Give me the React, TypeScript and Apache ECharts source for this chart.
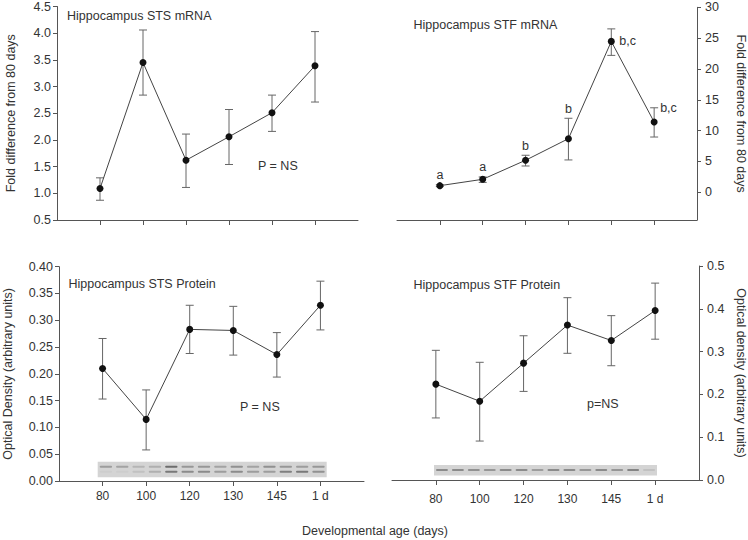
import React, { useEffect, useRef } from "react";
import * as echarts from "echarts";

// ---- Data ----
const categories = ["80", "100", "120", "130", "145", "1 d"];

const stsMrnaMean = [1.09, 3.45, 1.62, 2.06, 2.51, 3.39];
const stsMrnaLow = [0.87, 2.84, 1.11, 1.54, 2.16, 2.71];
const stsMrnaHigh = [1.29, 4.06, 2.11, 2.57, 2.84, 4.03];

const stfMrnaMean = [1.07, 2.1, 5.19, 8.69, 24.47, 11.39];
const stfMrnaLow = [0.92, 1.6, 4.26, 5.24, 22.2, 8.96];
const stfMrnaHigh = [1.22, 2.48, 6.0, 12.0, 26.5, 13.7];
const stfMrnaSig = ["a", "a", "b", "b", "b,c", "b,c"];
const stfMrnaSigPlacement = ["above", "above", "above", "above", "rightMean", "rightHigh"];

const stsProtMean = [0.21, 0.115, 0.283, 0.281, 0.236, 0.328];
const stsProtLow = [0.153, 0.058, 0.238, 0.235, 0.194, 0.282];
const stsProtHigh = [0.266, 0.17, 0.328, 0.326, 0.277, 0.373];

const stfProtMean = [0.224, 0.184, 0.273, 0.362, 0.326, 0.396];
const stfProtLow = [0.145, 0.091, 0.207, 0.296, 0.267, 0.329];
const stfProtHigh = [0.303, 0.275, 0.337, 0.426, 0.384, 0.46];

const stfMrnaTicks = [0, 5, 10, 15, 20, 25, 30];

// western blot band intensities (14 lanes)
const stsBlotUpper = [0.45, 0.4, 0.25, 0.3, 0.85, 0.5, 0.5, 0.4, 0.55, 0.4, 0.55, 0.5, 0.45, 0.5];
const stsBlotLower = [0.05, 0.05, 0.15, 0.3, 0.75, 0.6, 0.6, 0.45, 0.6, 0.45, 0.45, 0.7, 0.75, 0.55];
const stfBlot = [0.6, 0.6, 0.55, 0.5, 0.6, 0.6, 0.45, 0.6, 0.6, 0.5, 0.6, 0.5, 0.65, 0.15];

const FONT = "'Liberation Sans', Arial, Helvetica, sans-serif";
const TEXT = "#333";
const AXIS = "#555";

const positions = categories.map((_, i) => i + 1);

function errorSeries(idx: number, lows: number[], highs: number[]) {
  return {
    type: "custom",
    xAxisIndex: idx,
    yAxisIndex: idx,
    z: 2,
    data: positions.map((p, i) => [p, lows[i], highs[i]]),
    encode: { x: 0, y: [1, 2] },
    renderItem: (params: any, api: any) => {
      const x = api.value(0);
      const pLo = api.coord([x, api.value(1)]);
      const pHi = api.coord([x, api.value(2)]);
      const w = 4;
      const st = { stroke: "#666", lineWidth: 1, fill: "none" };
      return {
        type: "group",
        children: [
          { type: "line", shape: { x1: pLo[0], y1: pLo[1], x2: pHi[0], y2: pHi[1] }, style: st },
          { type: "line", shape: { x1: pHi[0] - w, y1: pHi[1], x2: pHi[0] + w, y2: pHi[1] }, style: st },
          { type: "line", shape: { x1: pLo[0] - w, y1: pLo[1], x2: pLo[0] + w, y2: pLo[1] }, style: st },
        ],
      };
    },
  };
}

function lineSeries(idx: number, means: number[]) {
  return {
    type: "line",
    xAxisIndex: idx,
    yAxisIndex: idx,
    z: 3,
    data: positions.map((p, i) => [p, means[i]]),
    symbol: "circle",
    symbolSize: 7,
    lineStyle: { color: "#444", width: 1 },
    itemStyle: { color: "#111" },
  };
}

function xAxis(idx: number, showLabels: boolean, margin: number) {
  return {
    type: "value",
    gridIndex: idx,
    min: 0,
    max: 7,
    axisLine: { show: true, onZero: false, lineStyle: { color: AXIS, width: 1 } },
    axisTick: { show: true, customValues: positions, length: 5, lineStyle: { color: AXIS } },
    axisLabel: {
      show: showLabels,
      customValues: positions,
      formatter: (v: number) => categories[Math.round(v) - 1] ?? "",
      fontSize: 12,
      color: TEXT,
      fontFamily: FONT,
      margin,
    },
    splitLine: { show: false },
  };
}

function blotGraphic(x: number, y: number, w: number, h: number, rows: { data: number[]; yOff: number }[]) {
  const children: any[] = [
    { type: "rect", shape: { x: 0, y: 0, width: w, height: h }, style: { fill: "#d4d4d4" } },
  ];
  const n = rows[0].data.length;
  const lane = w / n;
  rows.forEach((row) => {
    row.data.forEach((v, i) => {
      children.push({
        type: "rect",
        shape: { x: i * lane + 2, y: row.yOff, width: lane - 4, height: 2, r: 1 },
        style: { fill: `rgba(60,60,60,${v * 0.8})` },
      });
    });
  });
  return { type: "group", x, y, children, silent: true };
}

function label(text: string, left: number, cy: number) {
  return {
    type: "text",
    x: left,
    y: cy,
    style: { text, fill: TEXT, font: `12.5px ${FONT}`, verticalAlign: "middle" },
  };
}

export default function App() {
  const ref = useRef<HTMLDivElement>(null);
  useEffect(() => {
    if (!ref.current) return;
    const chart = echarts.init(ref.current, null, { renderer: "svg" });
    const nameStyle = { fontSize: 12.5, color: TEXT, fontFamily: FONT };
    const yLabel = { fontSize: 12.5, color: TEXT, fontFamily: FONT };
    const yLine = { show: true, onZero: false, lineStyle: { color: AXIS } };
    const option: any = {
      animation: false,
      textStyle: { fontFamily: FONT },
      grid: [
        { left: 57, top: 5.5, width: 301, height: 214.5 },
        { left: 397, top: 7.3, width: 302, height: 212.7 },
        { left: 57, top: 266.7, width: 307, height: 214.3 },
        { left: 392, top: 266, width: 308, height: 214 },
      ],
      xAxis: [xAxis(0, false, 8), xAxis(1, false, 8), xAxis(2, true, 9), xAxis(3, true, 13)],
      yAxis: [
        {
          type: "value",
          gridIndex: 0,
          min: 0.5,
          max: 4.5,
          interval: 0.5,
          name: "Fold difference from 80 days",
          nameLocation: "middle",
          nameGap: 40,
          nameTextStyle: nameStyle,
          axisLine: yLine,
          axisTick: { show: true, length: 4, lineStyle: { color: AXIS } },
          axisLabel: { ...yLabel, margin: 6, formatter: (v: number) => v.toFixed(1) },
          splitLine: { show: false },
        },
        {
          type: "value",
          gridIndex: 1,
          position: "right",
          min: -4.5,
          max: 30,
          name: "Fold difference from 80 days",
          nameLocation: "middle",
          nameRotate: -90,
          nameGap: 37,
          nameTextStyle: nameStyle,
          axisLine: yLine,
          axisTick: { show: true, length: 4, customValues: stfMrnaTicks, lineStyle: { color: AXIS } },
          axisLabel: { ...yLabel, margin: 8, customValues: stfMrnaTicks },
          splitLine: { show: false },
        },
        {
          type: "value",
          gridIndex: 2,
          min: 0,
          max: 0.4,
          interval: 0.05,
          name: "Optical Density (arbitrary units)",
          nameLocation: "middle",
          nameGap: 45,
          nameTextStyle: nameStyle,
          axisLine: yLine,
          axisTick: { show: true, length: 4, lineStyle: { color: AXIS } },
          axisLabel: { ...yLabel, margin: 6, formatter: (v: number) => v.toFixed(2) },
          splitLine: { show: false },
        },
        {
          type: "value",
          gridIndex: 3,
          position: "right",
          min: 0,
          max: 0.5,
          interval: 0.1,
          name: "Optical density (arbitrary units)",
          nameLocation: "middle",
          nameRotate: -90,
          nameGap: 35,
          nameTextStyle: nameStyle,
          axisLine: yLine,
          axisTick: { show: true, length: 4, lineStyle: { color: AXIS } },
          axisLabel: { ...yLabel, margin: 8, formatter: (v: number) => v.toFixed(1) },
          splitLine: { show: false },
        },
      ],
      series: [
        errorSeries(0, stsMrnaLow, stsMrnaHigh),
        lineSeries(0, stsMrnaMean),
        errorSeries(1, stfMrnaLow, stfMrnaHigh),
        lineSeries(1, stfMrnaMean),
        {
          type: "custom",
          xAxisIndex: 1,
          yAxisIndex: 1,
          z: 4,
          data: positions.map((p, i) => [p, stfMrnaMean[i], stfMrnaHigh[i], i]),
          encode: { x: 0, y: [1, 2] },
          renderItem: (params: any, api: any) => {
            const i = api.value(3);
            const x = api.value(0);
            const place = stfMrnaSigPlacement[i];
            const pMean = api.coord([x, api.value(1)]);
            const pHigh = api.coord([x, api.value(2)]);
            let px = pHigh[0], py = pHigh[1] - 3, align = "center", va = "bottom";
            if (place === "rightMean") { px = pMean[0] + 8; py = pMean[1]; align = "left"; va = "middle"; }
            if (place === "rightHigh") { px = pHigh[0] + 6; py = pHigh[1]; align = "left"; va = "middle"; }
            return {
              type: "text",
              x: px,
              y: py,
              style: { text: stfMrnaSig[i], fill: TEXT, font: `12.5px ${FONT}`, align, verticalAlign: va },
            };
          },
        },
        errorSeries(2, stsProtLow, stsProtHigh),
        lineSeries(2, stsProtMean),
        errorSeries(3, stfProtLow, stfProtHigh),
        lineSeries(3, stfProtMean),
      ],
      graphic: [
        label("Hippocampus STS mRNA", 67, 16),
        label("Hippocampus STF mRNA", 413.5, 24.5),
        label("Hippocampus STS Protein", 68.5, 283.5),
        label("Hippocampus STF Protein", 413.5, 285),
        label("P = NS", 258, 166),
        label("P = NS", 240, 407),
        label("p=NS", 587, 403.5),
        {
          type: "text",
          x: 375,
          y: 531,
          style: {
            text: "Developmental age (days)",
            fill: TEXT,
            font: `12.5px ${FONT}`,
            align: "center",
            verticalAlign: "middle",
          },
        },
        blotGraphic(97.7, 461.7, 229, 15.6, [
          { data: stsBlotUpper, yOff: 4 },
          { data: stsBlotLower, yOff: 9 },
        ]),
        blotGraphic(434, 465, 223, 10.5, [{ data: stfBlot, yOff: 4 }]),
      ],
    };
    chart.setOption(option);
    return () => chart.dispose();
  }, []);
  return (
    <div
      ref={ref}
      style={{ position: "fixed", left: 0, top: 0, width: 748, height: 540, background: "#fff" }}
    />
  );
}
